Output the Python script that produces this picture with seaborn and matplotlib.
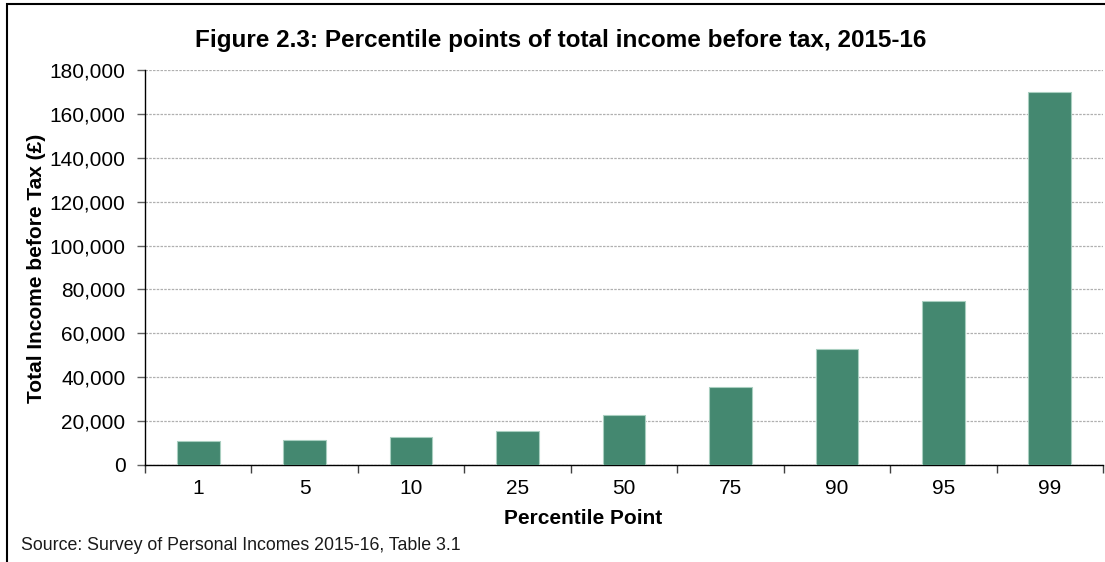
import matplotlib
matplotlib.use("Agg")
import matplotlib.pyplot as plt
import seaborn as sns
import pandas as pd
from matplotlib.patches import Rectangle
from matplotlib.ticker import FuncFormatter, FixedLocator

percentiles = ["1", "5", "10", "25", "50", "75", "90", "95", "99"]
income = [10800, 11300, 12700, 15600, 22900, 35500, 52800, 74600, 170000]

title = "Figure 2.3: Percentile points of total income before tax, 2015-16"
ylabel = "Total Income before Tax (£)"
xlabel = "Percentile Point"
source = "Source: Survey of Personal Incomes 2015-16, Table 3.1"

sns.set_theme(style="white")
plt.rcParams["font.family"] = ["Liberation Sans", "DejaVu Sans"]

df = pd.DataFrame({"Percentile": percentiles, "Income": income})

fig = plt.figure(figsize=(11.05, 5.62), dpi=100)
ax = fig.add_axes([145 / 1105, 1 - 465 / 562, 958 / 1105, 395 / 562])

sns.barplot(data=df, x="Percentile", y="Income", color="#448870", saturation=1,
            width=0.4, edgecolor="#a9cfc0", linewidth=0.8, ax=ax, zorder=3)

ax.set_ylim(0, 180000)
ax.set_xlim(-0.5, len(percentiles) - 0.5)
ax.set_yticks(range(0, 180001, 20000))
ax.yaxis.set_major_formatter(FuncFormatter(lambda v, p: f"{int(v):,}"))
ax.yaxis.grid(True, linestyle=(0, (2, 1)), color="#b0b0b0", linewidth=0.9, zorder=0)
ax.xaxis.grid(False)

for s in ["top", "right"]:
    ax.spines[s].set_visible(False)
for s in ["left", "bottom"]:
    ax.spines[s].set_color("black")
    ax.spines[s].set_linewidth(1.0)

ax.xaxis.set_minor_locator(FixedLocator([i - 0.5 for i in range(len(percentiles) + 1)]))
ax.tick_params(axis="x", which="major", length=0, pad=10, labelsize=15, labelcolor="black")
ax.tick_params(axis="x", which="minor", length=6, width=1, color="#404040", direction="out", bottom=True)
ax.tick_params(axis="y", which="major", length=6, width=1, color="#606060", direction="out",
               left=True, pad=8, labelsize=15, labelcolor="black")
ax.set_xlabel("")
ax.set_ylabel("")

fig.text(561 / 1105, 1 - 41 / 562, title, ha="center", va="center",
         fontsize=17.5, fontweight="bold", color="black")
fig.text(37 / 1105, 1 - 268 / 562, ylabel, ha="center", va="center", rotation=90,
         fontsize=15, fontweight="bold", color="black")
fig.text(583 / 1105, 1 - 518 / 562, xlabel, ha="center", va="center",
         fontsize=15, fontweight="bold", color="black")
fig.text(21 / 1105, 1 - 545 / 562, source, ha="left", va="center",
         fontsize=12.75, color="#1a1a1a")

fig.patches.append(Rectangle((7 / 1105, -0.1), 1.2, 1 - 4 / 562 + 0.1,
                             transform=fig.transFigure, fill=False,
                             edgecolor="black", linewidth=1.5))

fig.savefig("out.png", dpi=100)
